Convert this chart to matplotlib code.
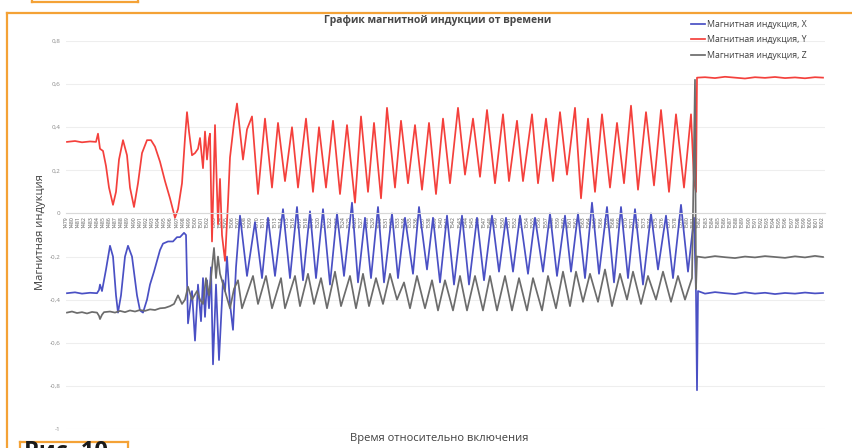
import numpy as np
import matplotlib
matplotlib.use("Agg")
import matplotlib.pyplot as plt
from matplotlib.lines import Line2D

plt.rcParams['font.family'] = ['Open Sans', 'DejaVu Sans']

# sample number (roughly one per pixel of the original chart) and value
blue_pts = [
    (67, -0.370), (75, -0.366), (82, -0.372), (90, -0.368), (97, -0.370), (99, -0.355),
    (100, -0.33), (102, -0.36), (106, -0.26), (110, -0.15), (113, -0.20), (116, -0.38),
    (118, -0.46), (121, -0.38), (125, -0.20), (128, -0.15), (132, -0.20), (137, -0.38),
    (140, -0.45), (143, -0.46), (147, -0.40), (150, -0.33), (154, -0.27), (157, -0.22),
    (160, -0.17), (163, -0.14), (168, -0.13), (173, -0.13), (177, -0.11), (180, -0.11),
    (182, -0.10), (184, -0.09), (186, -0.10), (188, -0.51), (192, -0.36), (195, -0.59),
    (198, -0.33), (201, -0.50), (203, -0.30), (205, -0.48), (207, -0.31), (209, -0.44),
    (211, -0.25), (213, -0.70), (216, -0.33), (219, -0.68), (223, -0.31), (225, -0.36),
    (227, -0.20), (230, -0.42), (233, -0.54), (236, -0.25), (240, -0.01),
    (247, -0.29), (255, -0.04), (262, -0.30), (268, -0.02), (275, -0.29), (283, 0.02),
    (290, -0.30), (297, 0.03), (303, -0.31), (310, 0.01), (316, -0.30), (323, 0.02),
    (330, -0.33), (337, 0.00), (344, -0.29), (352, 0.05), (358, -0.32), (365, -0.02),
    (371, -0.30), (378, 0.03), (384, -0.32), (392, 0.00), (398, -0.30), (405, -0.02),
    (413, -0.28), (419, 0.03), (427, -0.26), (433, -0.02), (440, -0.32), (447, -0.01),
    (454, -0.33), (462, -0.01), (469, -0.33), (477, -0.02), (484, -0.31), (492, -0.01),
    (499, -0.27), (506, -0.02), (513, -0.27), (520, -0.01), (528, -0.28), (535, -0.02),
    (543, -0.27), (550, 0.00), (557, -0.29), (565, -0.01), (571, -0.27), (578, 0.00),
    (585, -0.30), (592, 0.05), (599, -0.28), (607, 0.03), (614, -0.32), (621, 0.03),
    (628, -0.30), (635, 0.02), (643, -0.33), (651, 0.00), (658, -0.26), (666, -0.01),
    (673, -0.30), (681, 0.04), (688, -0.27), (694, -0.02),
    (696, -0.37), (697, -0.82), (698, -0.36), (705, -0.372), (715, -0.365), (725, -0.370),
    (735, -0.374), (745, -0.366), (755, -0.372), (765, -0.368), (775, -0.374),
    (785, -0.369), (795, -0.372), (805, -0.367), (815, -0.371), (823, -0.369),
]

red_pts = [
    (67, 0.332), (75, 0.336), (82, 0.330), (90, 0.334), (96, 0.332), (98, 0.37),
    (100, 0.30), (103, 0.29), (106, 0.22), (109, 0.12), (113, 0.04), (116, 0.10),
    (119, 0.25), (123, 0.34), (127, 0.27), (130, 0.12), (134, 0.03), (138, 0.14),
    (142, 0.28), (147, 0.34), (151, 0.34), (155, 0.31), (160, 0.24), (165, 0.15),
    (170, 0.07), (175, -0.02), (178, 0.02), (182, 0.14), (185, 0.35), (187, 0.47),
    (189, 0.38), (192, 0.27), (195, 0.28), (198, 0.30), (200, 0.35), (203, 0.21),
    (205, 0.38), (207, 0.25), (209, 0.35), (210, 0.37), (212, -0.13), (215, 0.41),
    (218, -0.05), (220, 0.16), (222, -0.10), (225, -0.22), (228, 0.05), (230, 0.26),
    (234, 0.42), (237, 0.51), (240, 0.38), (243, 0.25), (247, 0.39), (252, 0.45),
    (258, 0.09), (265, 0.44), (272, 0.12), (278, 0.42), (285, 0.15), (292, 0.40),
    (298, 0.12), (306, 0.44), (313, 0.10), (319, 0.40), (326, 0.12), (333, 0.43),
    (340, 0.09), (347, 0.41), (355, 0.05), (361, 0.45), (368, 0.10), (374, 0.42),
    (381, 0.07), (387, 0.49), (395, 0.12), (401, 0.43), (408, 0.14), (415, 0.41),
    (422, 0.11), (429, 0.42), (436, 0.09), (443, 0.44), (450, 0.14), (458, 0.49),
    (465, 0.18), (473, 0.44), (480, 0.17), (487, 0.48), (495, 0.14), (503, 0.46),
    (509, 0.15), (517, 0.43), (523, 0.15), (532, 0.46), (538, 0.14), (546, 0.44),
    (553, 0.15), (560, 0.47), (567, 0.18), (575, 0.49), (581, 0.07), (588, 0.44),
    (595, 0.10), (602, 0.46), (610, 0.12), (617, 0.42), (624, 0.14), (631, 0.50),
    (638, 0.11), (646, 0.47), (654, 0.13), (661, 0.48), (669, 0.10), (676, 0.46),
    (684, 0.12), (691, 0.46), (694, 0.15), (696, 0.10), (697, 0.63),
    (705, 0.632), (715, 0.628), (725, 0.634), (735, 0.630), (745, 0.626), (755, 0.632),
    (765, 0.629), (775, 0.633), (785, 0.628), (795, 0.631), (805, 0.627), (815, 0.632),
    (823, 0.630),
]

grey_pts = [
    (67, -0.460), (72, -0.455), (77, -0.462), (82, -0.458), (87, -0.464), (92, -0.457),
    (97, -0.460), (99, -0.475), (100, -0.49), (102, -0.47), (104, -0.458), (110, -0.455),
    (115, -0.460), (120, -0.452), (125, -0.458), (130, -0.450), (135, -0.455),
    (140, -0.448), (145, -0.452), (150, -0.445), (155, -0.448), (160, -0.440),
    (165, -0.438), (170, -0.430), (174, -0.42), (178, -0.38), (182, -0.42), (185, -0.40),
    (188, -0.34), (192, -0.40), (197, -0.36), (200, -0.40), (203, -0.42), (206, -0.30),
    (209, -0.38), (211, -0.30), (214, -0.16), (216, -0.30), (218, -0.20), (220, -0.28),
    (225, -0.36), (230, -0.44), (234, -0.35), (238, -0.31), (242, -0.44), (253, -0.29),
    (258, -0.42), (266, -0.29), (272, -0.44), (281, -0.30), (285, -0.44), (295, -0.29),
    (300, -0.43), (308, -0.28), (314, -0.42), (321, -0.30), (327, -0.44), (335, -0.27),
    (341, -0.43), (350, -0.29), (356, -0.44), (363, -0.28), (369, -0.43), (376, -0.30),
    (383, -0.42), (390, -0.28), (397, -0.40), (404, -0.32), (410, -0.44), (417, -0.29),
    (425, -0.44), (432, -0.31), (438, -0.45), (445, -0.31), (453, -0.45), (460, -0.29),
    (467, -0.45), (475, -0.29), (483, -0.45), (490, -0.29), (497, -0.45), (505, -0.29),
    (512, -0.45), (519, -0.30), (527, -0.45), (533, -0.30), (542, -0.45), (548, -0.29),
    (556, -0.44), (563, -0.27), (570, -0.43), (576, -0.27), (583, -0.41), (590, -0.28),
    (598, -0.41), (605, -0.26), (612, -0.43), (620, -0.28), (627, -0.40), (633, -0.27),
    (641, -0.42), (648, -0.29), (656, -0.40), (663, -0.27), (671, -0.41), (678, -0.29),
    (685, -0.40), (692, -0.30), (695, 0.62), (696, -0.35), (697, -0.20),
    (705, -0.205), (715, -0.198), (725, -0.203), (735, -0.207), (745, -0.200),
    (755, -0.204), (765, -0.198), (775, -0.202), (785, -0.206), (795, -0.199),
    (805, -0.204), (815, -0.197), (823, -0.202),
]

time_labels = [str(t) for t in range(1479, 1603)]
y_ticks = [-1, -0.8, -0.6, -0.4, -0.2, 0, 0.2, 0.4, 0.6, 0.8]

series = [
    ("Магнитная индукция, X", blue_pts, "#4a50c4"),
    ("Магнитная индукция, Y", red_pts, "#f4403c"),
    ("Магнитная индукция, Z", grey_pts, "#6c6c6c"),
]

fig = plt.figure(figsize=(8.53, 4.48), dpi=100)
W, H = 853, 448
ax = fig.add_axes([66 / W, 1 - 429 / H, (825 - 66) / W, (429 - 41) / H])

for name, pts, col in series:
    xs, ys = zip(*pts)
    ax.plot(xs, ys, color=col, lw=1.25, label=name, solid_joinstyle='round')

ax.set_xlim(66, 825)
ax.set_ylim(-1, 0.8)

for s in ['top', 'right', 'left']:
    ax.spines[s].set_visible(False)
ax.spines['bottom'].set_position(('data', 0))
ax.spines['bottom'].set_color('#d9d9d9')
ax.spines['bottom'].set_linewidth(0.8)

ax.tick_params(axis='x', length=0, pad=2, labelsize=3.7, labelrotation=90, labelcolor='#555555')
ax.tick_params(axis='y', length=0, pad=4, labelsize=4.5, labelcolor='#8a8a8a')

ax.set_yticks(y_ticks)
ax.set_yticklabels([f"{v:g}".replace(".", ",") for v in y_ticks])
ax.yaxis.grid(True, color="#eeeeee", lw=0.8)
ax.set_axisbelow(True)

tick_pos = 66 + 6.15 * np.arange(len(time_labels))
ax.set_xticks(tick_pos)
ax.set_xticklabels(time_labels)

fig.text(438 / W, 1 - 20 / H, "График магнитной индукции от времени", ha='center', va='center',
         fontsize=7.5, fontweight='bold', color='#484848')
fig.text(439 / W, 1 - 438 / H, "Время относительно включения", ha='center', va='center',
         fontsize=8, color='#404040')
fig.text(41 / W, 1 - 232 / H, "Магнитная индукция", ha='center', va='center', rotation=90,
         fontsize=8, color='#404040')

fig.legend(loc='upper left', bbox_to_anchor=(683 / W, 1 - 12 / H), frameon=False,
           fontsize=6.3, handlelength=1.6, handletextpad=0.3, labelspacing=0.75,
           labelcolor='#404040')

# orange frame from the scanned page
orange = '#f4a236'
frame = [
    ([7, 853], [13, 13]), ([7, 7], [13, 448]),
    ([32, 138], [2, 2]), ([32, 32], [0, 2]), ([138, 138], [0, 2]),
    ([20, 128], [442, 442]), ([20, 20], [442, 448]), ([128, 128], [442, 448]),
]
for xs, ys in frame:
    fig.add_artist(Line2D([x / W for x in xs], [1 - y / H for y in ys], color=orange,
                          lw=1.6, transform=fig.transFigure))
# caption of the scanned page, only its upper part is inside the picture
fig.text(24 / W, 1 - 458 / H, "Рис. 10", ha='left', va='baseline', fontsize=17,
         fontweight='bold', color='#1a1a1a')

fig.savefig("out.png", dpi=100)
